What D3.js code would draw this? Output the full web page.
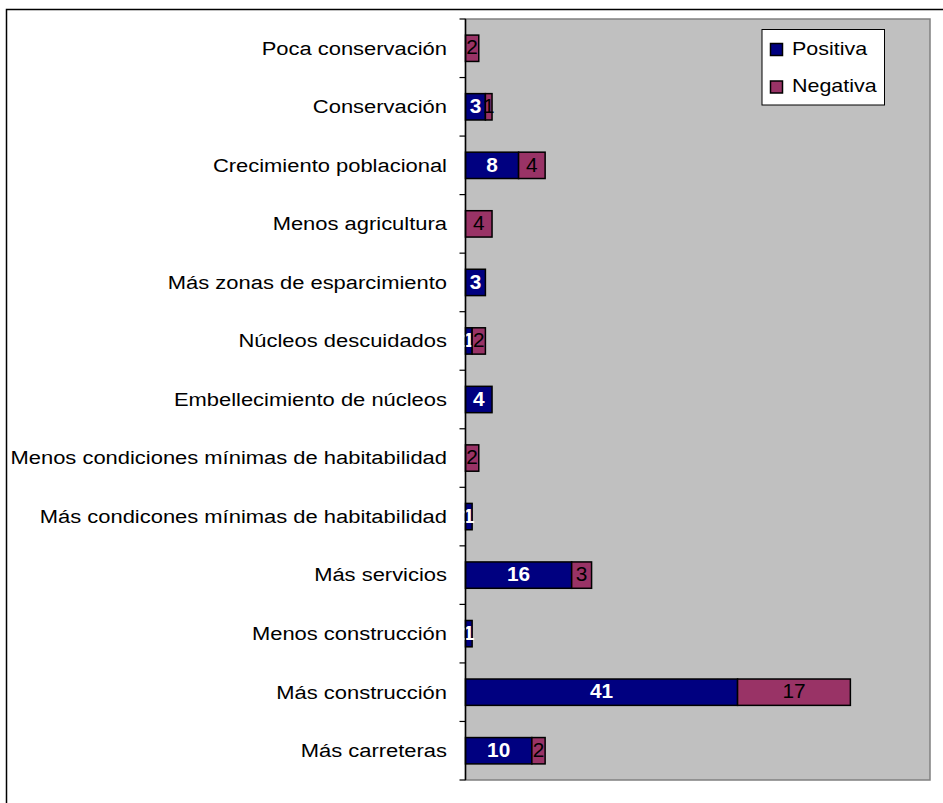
<!DOCTYPE html>
<html><head><meta charset="utf-8">
<script src="https://cdn.jsdelivr.net/npm/d3@7"></script>
<style>body{margin:0;background:#fff}svg{display:block}text{font-family:"Liberation Sans",Arial,sans-serif}</style>
</head><body>
<svg id="c" width="943" height="803"></svg>
<script>
const categories = ["Poca conservación","Conservación","Crecimiento poblacional","Menos agricultura","Más zonas de esparcimiento","Núcleos descuidados","Embellecimiento de núcleos","Menos condiciones mínimas de habitabilidad","Más condicones mínimas de habitabilidad","Más servicios","Menos construcción","Más construcción","Más carreteras"];
const positiva = [0,3,8,0,3,1,4,0,1,16,1,41,10];
const negativa = [2,1,4,4,0,2,0,2,0,3,0,17,2];
const seriesNames = ["Positiva","Negativa"];
const colors = ["#000080","#993366"];

const svg = d3.select("#c");
const M = {left:465.5, right:930, top:19, bottom:780};
svg.append("rect").attr("x",6.5).attr("y",9.5).attr("width",960).attr("height",820).attr("fill","#fff").attr("stroke","#000").attr("stroke-width",1.5);

const x = d3.scaleLinear().domain([0,70]).range([M.left,M.right]);
const y = d3.scaleBand().domain(categories).range([M.top,M.bottom]).paddingInner(0.55).paddingOuter(0.275);

svg.append("rect").attr("x",M.left).attr("y",M.top).attr("width",M.right-M.left).attr("height",M.bottom-M.top).attr("fill","#c0c0c0").attr("stroke","#808080").attr("stroke-width",1.5);

function stext(parent, tx, ty, anchor, str, opts){
  return parent.append("g").attr("transform",`translate(${tx},${ty}) scale(${opts.sx},1)`)
    .append("text").attr("x",0).attr("y",0).attr("dy","0.36em").attr("text-anchor",anchor)
    .attr("font-size",opts.size).attr("fill",opts.fill||"#000").attr("font-weight",opts.weight||"normal").text(str);
}

const data = categories.map((c,i)=>({c, v:[positiva[i],negativa[i]]}));
const g = svg.append("g");
data.forEach(d=>{
  let acc=0;
  d.v.forEach((v,s)=>{
    if(v>0){
      g.append("rect").attr("x",x(acc)).attr("y",y(d.c)).attr("width",x(acc+v)-x(acc)).attr("height",y.bandwidth())
        .attr("fill",colors[s]).attr("stroke","#000").attr("stroke-width",1.5);
      stext(g,(x(acc)+x(acc+v))/2, y(d.c)+y.bandwidth()/2-1, "middle", v,
        {size:20, sx:1.04, fill:s===0?"#fff":"#000", weight:s===0?"bold":"normal"});
    }
    acc+=v;
  });
});

// axis
const ax = svg.append("g").attr("transform",`translate(${M.left},0)`);
ax.append("line").attr("x1",0).attr("x2",0).attr("y1",M.top).attr("y2",M.bottom).attr("stroke","#000").attr("stroke-width",1.5);
d3.range(categories.length+1).forEach(i=>{
  const yy = M.top + i*(M.bottom-M.top)/categories.length;
  ax.append("line").attr("x1",-6).attr("x2",0).attr("y1",yy).attr("y2",yy).attr("stroke","#000").attr("stroke-width",1.2);
});
categories.forEach(c=>{
  stext(svg, 447, y(c)+y.bandwidth()/2-0.5, "end", c, {size:19, sx:1.155});
});

// legend
const lg = svg.append("g");
lg.append("rect").attr("x",762).attr("y",29.5).attr("width",122.5).attr("height",75.5).attr("fill","#fff").attr("stroke","#000").attr("stroke-width",1);
seriesNames.forEach((n,i)=>{
  const cy = 49.5 + i*37.5;
  lg.append("rect").attr("x",770.5).attr("y",cy-6).attr("width",12).attr("height",12).attr("fill",colors[i]).attr("stroke","#000").attr("stroke-width",1.5);
  stext(lg, 792, cy-1.5, "start", n, {size:19, sx:1.13});
});
</script>
</body></html>
